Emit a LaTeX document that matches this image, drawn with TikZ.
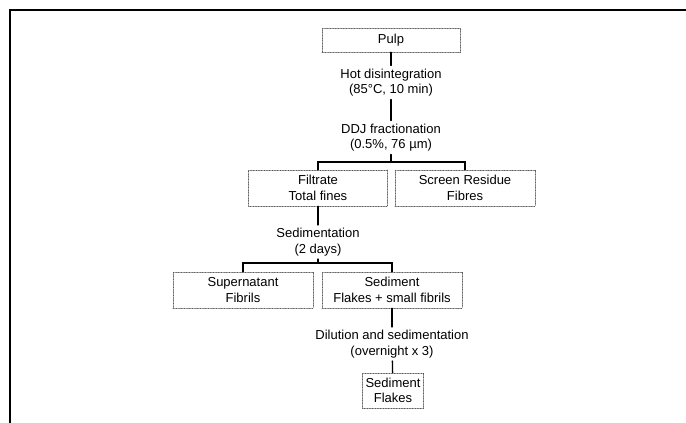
\documentclass[tikz,border=0pt]{standalone}
\usepackage{fontspec}
\setmainfont{Liberation Sans}
\usetikzlibrary{positioning}

\begin{document}
\begin{tikzpicture}[
    x=1pt, y=-1pt,
    line cap=round,
    every node/.style={font=\fontsize{13}{15.5}\selectfont, align=center},
    fraction/.style={draw=black!65, densely dotted, line width=0.6pt,
        minimum width=140pt, minimum height=36pt, inner sep=1pt},
    treatment/.style={inner sep=3pt},
    link/.style={black, line width=1.3pt},
]

\useasboundingbox (0,0) rectangle (686,423);

% ---------- frame: only its top and left edges are in view ----------
\draw[line width=1.9pt] (10,423) |- (686,10);

% ---------- fractions (dotted boxes) and treatments (plain text) ----------
\node[fraction, minimum width=138pt, minimum height=24pt] (pulp) at (391,40) {Pulp};
\node[treatment] (hotdis) at (391,82.5) {Hot disintegration\\(85°C, 10 min)};
\node[treatment] (ddj) at (391,137.5) {DDJ fractionation\\(0.5\%, 76 µm)};

\node[fraction, minimum width=139pt] (filtrate) at (318,188) {Filtrate\\Total fines};
\node[fraction] (residue) at (465,188) {Screen Residue\\Fibres};
\node[treatment] (sedim) at (318,242) {Sedimentation\\(2 days)};

\node[fraction] (supernat) at (243,290) {Supernatant\\Fibrils};
\node[fraction] (sediment) at (392,290) {Sediment\\Flakes + small fibrils};
\node[treatment] (dilution) at (392,344) {Dilution and sedimentation\\(overnight x 3)};

\node[fraction, minimum width=61pt, minimum height=35pt] (flakes) at (393,390.5) {Sediment\\Flakes};

% ---------- connectors ----------
\coordinate (fork1) at (391,162);
\coordinate (fork2) at (318,263);

\draw[link] (pulp) -- (hotdis);
\draw[link] (hotdis) -- (ddj);
\draw[link] (ddj.south) -- (fork1);
\draw[link] (filtrate.north) |- (fork1) -| (residue.north);
\draw[link] (filtrate) -- (sedim);
\draw[link] (sedim.south) -- (fork2);
\draw[link] (supernat.north) |- (fork2) -| (sediment.north);
\draw[link] (sediment) -- (dilution);
\draw[link] (dilution) -- (flakes);

\end{tikzpicture}
\end{document}
